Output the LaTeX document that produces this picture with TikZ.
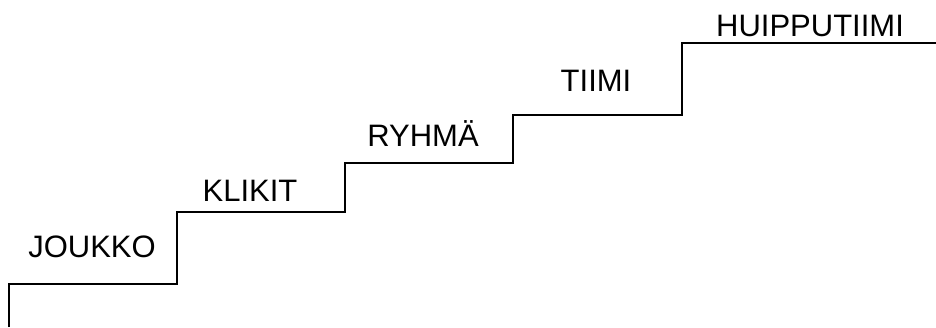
\documentclass[tikz,border=0pt]{standalone}
\usepackage{fontspec}
\setmainfont{Liberation Sans}
\tikzset{
  stair/.style={line width=1.6pt, line join=miter},
  steplabel/.style={anchor=base, inner sep=0pt, font=\fontsize{31}{31}\selectfont}
}
\begin{document}
\begin{tikzpicture}[x=1pt, y=1pt]
\useasboundingbox (0,0) rectangle (936,327);
% Portaiden kulmat
\coordinate (s0) at (9,0);
\coordinate (s1) at (9,43);
\coordinate (s2) at (177,43);
\coordinate (s3) at (177,115);
\coordinate (s4) at (345,115);
\coordinate (s5) at (345,164);
\coordinate (s6) at (513,164);
\coordinate (s7) at (513,212);
\coordinate (s8) at (682,212);
\coordinate (s9) at (682,284);
\coordinate (s10) at (936,284);
% Portaat
\draw[stair] (s0) -- (s1) -- (s2) -- (s3) -- (s4) -- (s5) -- (s6)
  -- (s7) -- (s8) -- (s9) -- (s10);
% Askelmien nimet
\node[steplabel] (joukko) at (92,70) {JOUKKO};
\node[steplabel] (klikit) at (250,126) {KLIKIT};
\node[steplabel] (ryhma) at (423,180) {RYHMÄ};
\node[steplabel] (tiimi) at (596,235) {TIIMI};
\node[steplabel] (huippu) at (810,290) {HUIPPUTIIMI};
\end{tikzpicture}
\end{document}
